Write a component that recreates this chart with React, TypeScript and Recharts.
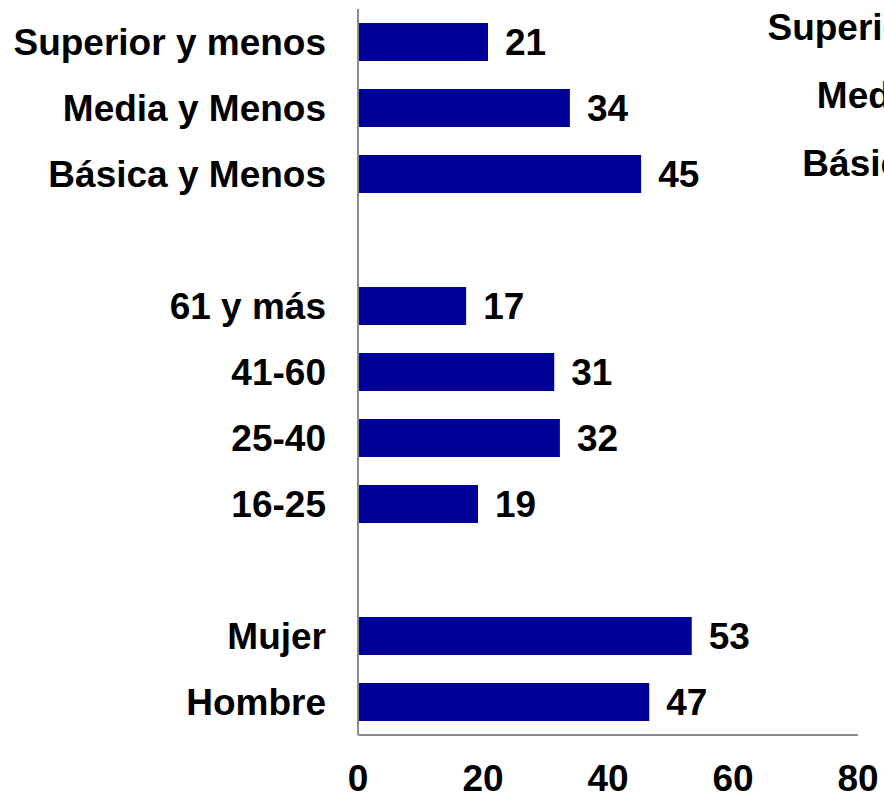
// App.tsx
// Horizontal bar chart: share by education, age band and sex.
import { BarChart, Bar, XAxis, YAxis, LabelList } from "recharts";

const FONT = "'Liberation Sans', Arial, sans-serif";
const BAR_COLOR = "#000099";
const AXIS_COLOR = "#8c8c8c";

// Categories from top to bottom; blank entries are the gaps between groups
const categories = [
  "Superior y menos",
  "Media y Menos",
  "Básica y Menos",
  " ",
  "61 y más",
  "41-60",
  "25-40",
  "16-25",
  "  ",
  "Mujer",
  "Hombre",
];
// bar lengths (labels show them rounded)
const values = [20.8, 33.9, 45.3, null, 17.3, 31.4, 32.3, 19.2, null, 53.4, 46.6];
const xTicks = [0, 20, 40, 60, 80];

// Labels of the neighbouring panel, cut off by the right edge
const nextPanelLabels = ["Superior y menos", "Media y Menos", "Básica y Menos"];

const data = categories.map((name, i) => ({ name, value: values[i] }));

const tickStyle = { fontSize: 37, fontWeight: 700, fill: "#000", fontFamily: FONT };

const W = 884;
const H = 795;

export default function App() {
  return (
    <div
      style={{
        position: "fixed",
        left: 0,
        top: 0,
        width: W,
        height: H,
        overflow: "hidden",
        background: "#fff",
        fontFamily: FONT,
      }}
    >
      <BarChart
        width={W}
        height={H}
        data={data}
        layout="vertical"
        margin={{ top: 9, right: 26, bottom: 0, left: 0 }}
      >
        <XAxis
          type="number"
          domain={[0, 80]}
          ticks={xTicks}
          height={60}
          tickSize={0}
          tickMargin={30}
          tickLine={false}
          axisLine={{ stroke: AXIS_COLOR, strokeWidth: 2 }}
          tick={tickStyle}
        />
        <YAxis
          type="category"
          dataKey="name"
          width={358}
          tickSize={0}
          tickMargin={32}
          tickLine={false}
          interval={0}
          axisLine={{ stroke: AXIS_COLOR, strokeWidth: 2 }}
          tick={tickStyle}
        />
        <Bar dataKey="value" fill={BAR_COLOR} barSize={38} isAnimationActive={false}>
          <LabelList
            dataKey="value"
            position="right"
            offset={17}
            formatter={(v: any) => (v == null ? "" : Math.round(Number(v)))}
            style={{ fontSize: 37, fontWeight: 700, fill: "#000", fontFamily: FONT }}
          />
        </Bar>
      </BarChart>

      {nextPanelLabels.map((label, i) => (
        <div
          key={label}
          style={{
            position: "absolute",
            right: -196,
            top: 9 + i * 68,
            fontSize: 37,
            fontWeight: 700,
            lineHeight: 1,
            whiteSpace: "nowrap",
            textAlign: "right",
            color: "#000",
          }}
        >
          {label}
        </div>
      ))}
    </div>
  );
}
